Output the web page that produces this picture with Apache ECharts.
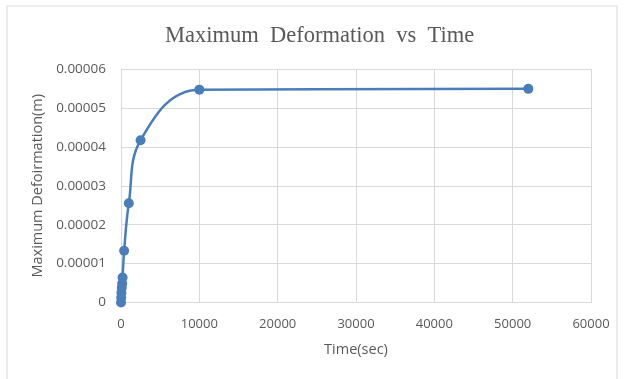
<!DOCTYPE html>
<html><head><meta charset="utf-8">
<script src="https://cdn.jsdelivr.net/npm/echarts@6/dist/echarts.min.js"></script>
<style>html,body{margin:0;padding:0;background:#fff}#c{width:625px;height:379px}</style>
</head><body><div id="c"></div>
<script>
const timeSec = [0, 25, 50, 100, 150, 200, 400, 1000, 2500, 10000, 52000];
const deformation = [0, 0.0000012, 0.0000025, 0.0000038, 0.0000049, 0.0000064, 0.0000133, 0.0000255, 0.0000417, 0.0000547, 0.0000549];
const titleText = 'Maximum  Deformation  vs  Time';
const xName = 'Time(sec)';
const yName = 'Maximum Defoirmation(m)';

const chart = echarts.init(document.getElementById('c'), null, {renderer: 'canvas'});
chart.setOption({
  animation: false,
  graphic: [{type: 'rect', shape: {x: 7, y: 6, width: 610, height: 380}, style: {fill: 'none', stroke: '#d9d9d9', lineWidth: 1}}],
  title: {text: titleText, left: 160, top: 20, textStyle: {fontFamily: 'Liberation Serif', fontSize: 22.5, fontWeight: 'normal', color: '#595959'}},
  grid: {left: 121, right: 34, top: 69, bottom: 76.5, containLabel: false},
  xAxis: {
    type: 'value', min: 0, max: 60000, interval: 10000,
    name: xName, nameLocation: 'middle', nameGap: 40,
    nameTextStyle: {color: '#595959', fontSize: 14.5, fontFamily: 'Open Sans'},
    axisLine: {show: true, lineStyle: {color: '#d9d9d9'}},
    axisTick: {show: false},
    axisLabel: {margin: 15, color: '#595959', fontSize: 13, fontFamily: 'Open Sans', formatter: v => String(v)},
    splitLine: {show: true, lineStyle: {color: '#d9d9d9'}}
  },
  yAxis: {
    type: 'value', min: 0, max: 0.00006, interval: 0.00001,
    name: yName, nameLocation: 'middle', nameGap: 68,
    nameTextStyle: {color: '#595959', fontSize: 14.5, fontFamily: 'Open Sans'},
    axisLine: {show: true, lineStyle: {color: '#d9d9d9'}},
    axisTick: {show: false},
    axisLabel: {margin: 15, color: '#595959', fontSize: 13.5, fontFamily: 'Open Sans', formatter: v => v === 0 ? '0' : v.toFixed(5)},
    splitLine: {show: true, lineStyle: {color: '#d9d9d9'}}
  },
  series: [{
    type: 'line', smooth: 0.4,
    data: timeSec.map((t, i) => [t, deformation[i]]),
    symbol: 'circle', symbolSize: 10,
    lineStyle: {color: '#4a7ebb', width: 2.5},
    itemStyle: {color: '#4a7ebb'}
  }]
});
</script></body></html>
